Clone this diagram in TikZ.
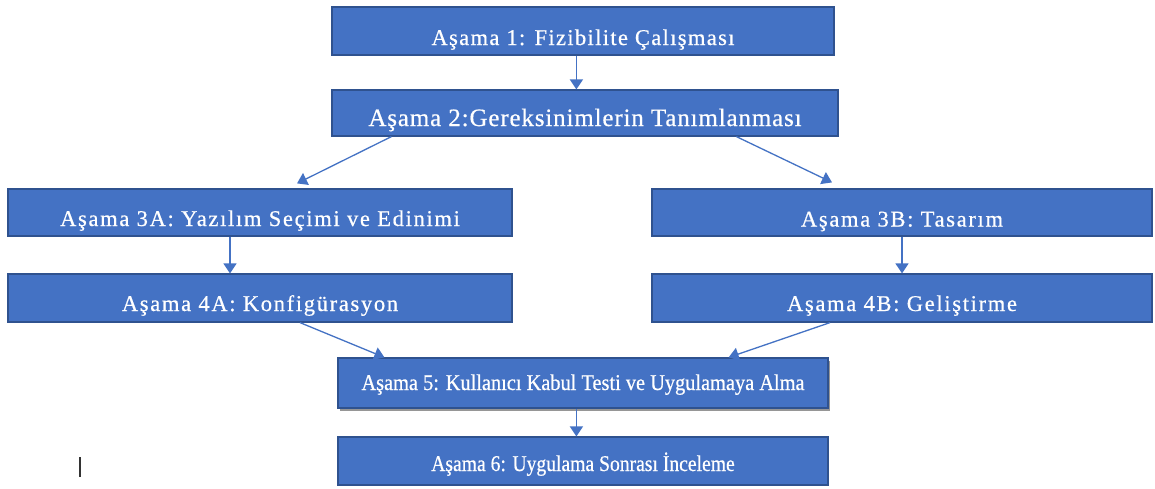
\documentclass[tikz,border=0pt]{standalone}
\usepackage{fontspec}
\setmainfont{Liberation Serif}[FakeBold=0.6]
\newfontfamily\fsA[LetterSpace=6,FakeBold=0.6]{Liberation Serif}
\newfontfamily\fsB[LetterSpace=3.4,FakeBold=0.6]{Liberation Serif}
\newfontfamily\fsC[LetterSpace=7.5,FakeBold=0.6]{Liberation Serif}
\usetikzlibrary{arrows.meta,calc,shadows}
\definecolor{boxblue}{HTML}{4472C4}
\definecolor{boxedge}{HTML}{2F528F}
\definecolor{cursorgray}{HTML}{333333}
\tikzset{
  stage/.style={draw=boxedge, line width=1.2pt, fill=boxblue, text=white,
    inner sep=0pt, text depth=0pt, font=\fontsize{22.5}{27}\selectfont},
  conn/.style={draw=boxblue, line width=1.3pt, -{Triangle[width=13pt,length=10pt]}},
  caret/.style={draw=cursorgray, line width=1.6pt}
}
\begin{document}
\begin{tikzpicture}[x=1pt,y=-1pt]
\useasboundingbox (0,0) rectangle (1155,488);
\fill[white] (0,0) rectangle (1155,488);

\node[stage, minimum width=502pt, minimum height=48pt, text height=28pt] (b1) at (583,31)
  {\fsA Aşama 1: Fizibilite Çalışması};
\node[stage, minimum width=506pt, minimum height=46pt, text height=26pt,
  font=\fontsize{25}{30}\selectfont] (b2) at (585,113)
  {\fsB Aşama 2:Gereksinimlerin Tanımlanması};
\node[stage, minimum width=504pt, minimum height=47pt, text height=27pt] (b3a) at (260,212.5)
  {\fsC Aşama 3A: Yazılım Seçimi ve Edinimi};
\node[stage, minimum width=500pt, minimum height=47pt, text height=28pt] (b3b) at (902,212.5)
  {\fsC Aşama 3B: Tasarım};
\node[stage, minimum width=504pt, minimum height=48pt, text height=26pt] (b4a) at (260,298)
  {\fsC Aşama 4A: Konfigürasyon};
\node[stage, minimum width=500pt, minimum height=48pt, text height=26pt] (b4b) at (902,298)
  {\fsC Aşama 4B: Geliştirme};
\node[stage, minimum width=490pt, minimum height=50pt, text height=14pt,
  drop shadow={shadow xshift=1.5pt, shadow yshift=-2.5pt, opacity=0.55, fill=black!75}] (b5) at (583,383)
  {\scalebox{0.905}[1]{Aşama 5: Kullanıcı Kabul Testi ve Uygulamaya Alma}};
\node[stage, minimum width=490pt, minimum height=48pt, text height=20pt] (b6) at (583,461)
  {\scalebox{0.872}[1]{Aşama 6: Uygulama Sonrası İnceleme}};

\draw[conn] ($(b1.south west)+(245,0)$) -- ($(b2.north west)+(245,0)$);
\draw[conn] ($(b2.south west)+(60,0)$) -- ($(b3a.north)+(37,-5)$);
\draw[conn] ($(b2.south west)+(405,0)$) -- ($(b3b.north)+(-70,-6)$);
\draw[conn] ($(b3a.south)+(-30,0)$) -- ($(b4a.north)+(-30,0)$);
\draw[conn] (b3b.south) -- (b4b.north);
\draw[conn] ($(b4a.south)+(40,0)$) -- ($(b5.north west)+(47,0)$);
\draw[conn] ($(b4b.south)+(-72,0)$) -- ($(b5.north east)+(-100,0)$);
\draw[conn] ($(b5.south west)+(239,0)$) -- ($(b6.north west)+(239,0)$);

\coordinate (ctop) at (80,457);
\coordinate (cbot) at (80,477);
\draw[caret] (ctop) -- (cbot);
\end{tikzpicture}
\end{document}
